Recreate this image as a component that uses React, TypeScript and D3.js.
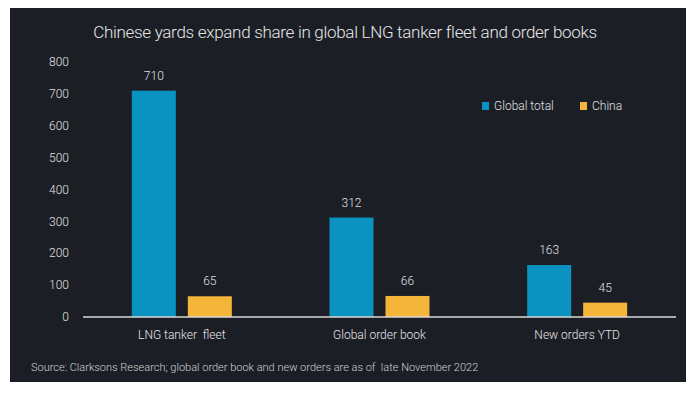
import { scaleBand, scaleLinear } from "d3";

const categories = ["LNG tanker  fleet", "Global order book", "New orders YTD"];
const seriesNames = ["Global total", "China"];
const globalTotal = [710, 312, 163];
const china = [65, 66, 45];
const yTicks = [0, 100, 200, 300, 400, 500, 600, 700, 800];

const colors = ["#0a93c0", "#f4b63a"];
const width = 693;
const height = 396;
const marginLeft = 83;
const marginRight = 17;
const plotTop = 62;
const plotBottom = 317;
const font = "Roboto, 'Liberation Sans', sans-serif";

export default function App() {
  const values = [globalTotal, china];

  const x0 = scaleBand()
    .domain(categories)
    .range([marginLeft, width - marginRight])
    .padding(0);

  const x1 = scaleBand()
    .domain(seriesNames)
    .range([0, 100])
    .paddingInner(0.214)
    .paddingOuter(0);

  const y = scaleLinear().domain([0, 800]).range([plotBottom, plotTop]);

  return (
    <svg
      width={width}
      height={height}
      style={{ position: "absolute", left: 0, top: 0, fontFamily: font }}>
      <rect x={0} y={0} width={width} height={height} fill="#ffffff" />
      <rect x={10} y={8} width={676} height={374} fill="#1c1e26" />
      <text
        x={345}
        y={38}
        textAnchor="middle"
        fontSize={17}
        fontWeight={300}
        fill="#e6e6e6"
        style={{ letterSpacing: "-0.3px" }}>
        Chinese yards expand share in global LNG tanker fleet and order books
      </text>

      {yTicks.map((t) => (
        <text
          key={t}
          x={69}
          y={y(t)}
          dy="0.35em"
          textAnchor="end"
          fontSize={12}
          fontWeight={300}
          fill="#e0e0e0">
          {t}
        </text>
      ))}

      {categories.map((c, i) => {
        const cx = x0(c)! + x0.bandwidth() / 2;
        return (
          <g key={c}>
            {seriesNames.map((s, j) => {
              const v = values[j][i];
              const bx = cx - 50 + x1(s)!;
              return (
                <g key={s}>
                  <rect
                    x={bx}
                    y={y(v)}
                    width={x1.bandwidth()}
                    height={y(0) - y(v)}
                    fill={colors[j]}
                  />
                  <text
                    x={bx + x1.bandwidth() / 2}
                    y={y(v) - 11}
                    textAnchor="middle"
                    fontSize={12}
                    fontWeight={300}
                    fill="#e0e0e0">
                    {v}
                  </text>
                </g>
              );
            })}
            <text
              x={cx}
              y={339}
              textAnchor="middle"
              fontSize={12}
              fontWeight={300}
              fill="#e6e6e6"
              style={{ whiteSpace: "pre" }}>
              {c}
            </text>
          </g>
        );
      })}

      <line
        x1={marginLeft}
        x2={width - marginRight}
        y1={plotBottom}
        y2={plotBottom}
        stroke="#d9d9d9"
        strokeWidth={1.5}
      />

      {seriesNames.map((s, j) => {
        const lx = j === 0 ? 482 : 580;
        return (
          <g key={s}>
            <rect x={lx} y={102} width={7} height={8} fill={colors[j]} />
            <text
              x={lx + 12}
              y={106}
              dy="0.35em"
              fontSize={12}
              fontWeight={300}
              fill="#e0e0e0">
              {s}
            </text>
          </g>
        );
      })}

      <text
        x={31}
        y={371}
        fontSize={11}
        fontWeight={300}
        fill="#d0d0d0"
        style={{ whiteSpace: "pre" }}>
        Source: Clarksons Research; global order book and new orders are as of  late November 2022
      </text>
    </svg>
  );
}
